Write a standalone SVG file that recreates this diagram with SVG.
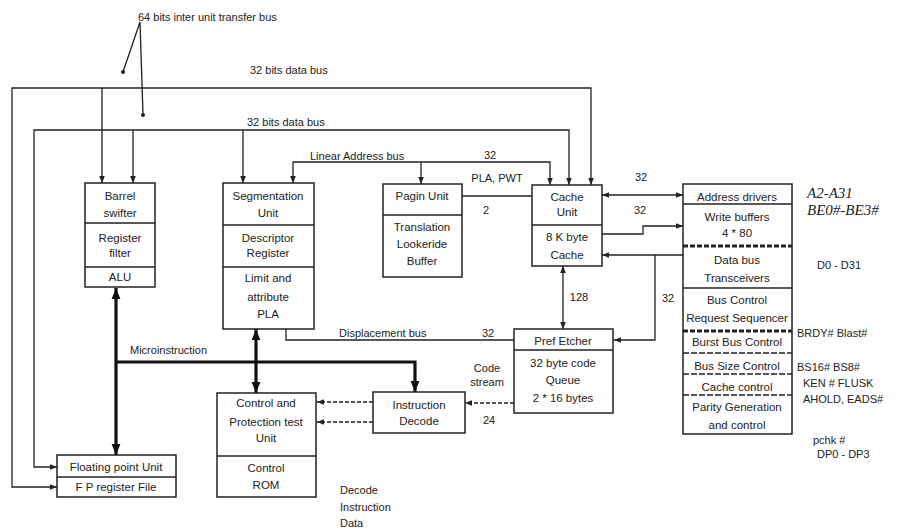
<svg xmlns="http://www.w3.org/2000/svg" width="902" height="530" viewBox="0 0 902 530">
<defs>
<marker id="a" viewBox="0 0 10 10" refX="10" refY="5" markerWidth="7" markerHeight="7" orient="auto-start-reverse" markerUnits="userSpaceOnUse"><path d="M0,1 L10,5 L0,9 z" fill="#222"/></marker>
<marker id="b" viewBox="0 0 10 10" refX="10" refY="5" markerWidth="11" markerHeight="11" orient="auto-start-reverse" markerUnits="userSpaceOnUse"><path d="M0,1 L10,5 L0,9 z" fill="#111"/></marker>
</defs>
<style>
.box{fill:none;stroke:#222;stroke-width:1.5}
.div{stroke:#222;stroke-width:1.3}
.dd{stroke:#222;stroke-width:3;stroke-dasharray:5 2}
.dl{stroke:#222;stroke-width:1.3;stroke-dasharray:6 2}
.w{fill:none;stroke:#222;stroke-width:1.3}
.ds{fill:none;stroke:#222;stroke-width:1.3;stroke-dasharray:4 2}
.th{fill:none;stroke:#111;stroke-width:3.2}
text{font-family:"Liberation Sans","DejaVu Sans",sans-serif;font-size:11.5px;fill:#222}
.c{text-anchor:middle}
.s{font-size:11px}
.it{font-family:"Liberation Serif",serif;font-style:italic;font-size:15px}
</style>
<rect width="902" height="530" fill="#fff"/>

<g id="connectors">
<path class="w" d="M591 185 V88 H12 V487 H57" marker-start="url(#a)" marker-end="url(#a)"/>
<path class="w" d="M102 88 V183" marker-end="url(#a)"/>
<path class="w" d="M569 185 V130 H34 V467 H57" marker-start="url(#a)" marker-end="url(#a)"/>
<path class="w" d="M133 130 V183" marker-end="url(#a)"/>
<path class="w" d="M243 130 V183" marker-end="url(#a)"/>
<path class="w" d="M293 183 V162 H550 V185" marker-start="url(#a)" marker-end="url(#a)"/>
<path class="w" d="M421 162 V184" marker-end="url(#a)"/>
<path class="w" d="M123 72 L140 22 L143 115"/>
<circle cx="123" cy="72" r="2" fill="#222"/>
<circle cx="143" cy="115" r="2" fill="#222"/>
<path class="w" d="M462 196 H532"/>
<path class="w" d="M602 195 H683" marker-start="url(#a)" marker-end="url(#a)"/>
<path class="w" d="M602 234 H643 V226 H683" marker-end="url(#a)"/>
<path class="w" d="M602 255 H683" marker-start="url(#a)"/>
<path class="w" d="M655 255 V340 H614" marker-end="url(#a)"/>
<path class="w" d="M563 266 V329" marker-start="url(#a)" marker-end="url(#a)"/>
<path class="w" d="M286 329 V340 H514"/>
<path class="ds" d="M514 403 H465" marker-end="url(#a)"/>
<path class="ds" d="M373 402 H317" marker-end="url(#a)"/>
<path class="ds" d="M373 422 H317" marker-end="url(#a)"/>
<path class="th" d="M116 288 V455" marker-start="url(#b)" marker-end="url(#b)"/>
<path class="th" d="M116 362 H415 V392" marker-end="url(#b)"/>
<path class="th" d="M256 329 V393" marker-start="url(#b)" marker-end="url(#b)"/>
</g>

<g id="barrel">
<rect class="box" x="85" y="183" width="70" height="104"/>
<line class="div" x1="85" y1="223" x2="155" y2="223"/>
<line class="div" x1="85" y1="267" x2="155" y2="267"/>
<text class="c" x="120" y="200">Barrel</text>
<text class="c" x="120" y="217">swifter</text>
<text class="c" x="120" y="242">Register</text>
<text class="c" x="120" y="257">filter</text>
<text class="c" x="120" y="281">ALU</text>
</g>

<g id="segmentation">
<rect class="box" x="223" y="183" width="91" height="146"/>
<line class="div" x1="223" y1="225" x2="314" y2="225"/>
<line class="div" x1="223" y1="267" x2="314" y2="267"/>
<text class="c" x="268" y="200">Segmentation</text>
<text class="c" x="268" y="217">Unit</text>
<text class="c" x="268" y="242">Descriptor</text>
<text class="c" x="268" y="257">Register</text>
<text class="c" x="268" y="282">Limit and</text>
<text class="c" x="268" y="301">attribute</text>
<text class="c" x="268" y="318">PLA</text>
</g>

<g id="paging">
<rect class="box" x="383" y="184" width="79" height="93"/>
<line class="div" x1="383" y1="215" x2="462" y2="215"/>
<text class="c" x="422" y="200">Pagin Unit</text>
<text class="c" x="422" y="231">Translation</text>
<text class="c" x="422" y="248">Lookeride</text>
<text class="c" x="422" y="265">Buffer</text>
</g>

<g id="cache">
<rect class="box" x="532" y="185" width="70" height="81"/>
<line class="div" x1="532" y1="225" x2="602" y2="225"/>
<text class="c" x="567" y="201">Cache</text>
<text class="c" x="567" y="216">Unit</text>
<text class="c" x="567" y="241">8 K byte</text>
<text class="c" x="567" y="259">Cache</text>
</g>

<g id="busunit">
<rect class="box" x="683" y="184" width="109" height="250"/>
<line class="div" x1="683" y1="204" x2="792" y2="204"/>
<line class="dd" x1="683" y1="246" x2="792" y2="246"/>
<line class="div" x1="683" y1="288" x2="792" y2="288"/>
<line class="dd" x1="683" y1="331" x2="792" y2="331"/>
<line class="dl" x1="683" y1="353" x2="792" y2="353"/>
<line class="dl" x1="683" y1="374" x2="792" y2="374"/>
<line class="dl" x1="683" y1="395" x2="792" y2="395"/>
<text class="c" x="737" y="201">Address drivers</text>
<text class="c" x="737" y="221">Write buffers</text>
<text class="c" x="737" y="237">4 * 80</text>
<text class="c" x="737" y="264">Data bus</text>
<text class="c" x="737" y="282">Transceivers</text>
<text class="c" x="737" y="304">Bus Control</text>
<text class="c" x="737" y="322">Request Sequencer</text>
<text class="c" x="737" y="346">Burst Bus Control</text>
<text class="c" x="737" y="370">Bus Size Control</text>
<text class="c" x="737" y="391">Cache control</text>
<text class="c" x="737" y="411">Parity Generation</text>
<text class="c" x="737" y="429">and control</text>
</g>

<g id="prefetcher">
<rect class="box" x="514" y="329" width="99" height="84"/>
<line class="div" x1="514" y1="350" x2="613" y2="350"/>
<text class="c" x="563" y="345">Pref Etcher</text>
<text class="c" x="563" y="367">32 byte code</text>
<text class="c" x="563" y="384">Queue</text>
<text class="c" x="563" y="402">2 * 16 bytes</text>
</g>

<g id="decode">
<rect class="box" x="373" y="392" width="92" height="41"/>
<text class="c" x="419" y="409">Instruction</text>
<text class="c" x="419" y="425">Decode</text>
</g>

<g id="control">
<rect class="box" x="217" y="393" width="99" height="104"/>
<line class="div" x1="217" y1="456" x2="316" y2="456"/>
<text class="c" x="266" y="407">Control and</text>
<text class="c" x="266" y="426">Protection test</text>
<text class="c" x="266" y="442">Unit</text>
<text class="c" x="266" y="472">Control</text>
<text class="c" x="266" y="489">ROM</text>
</g>

<g id="fpu">
<rect class="box" x="57" y="455" width="119" height="42"/>
<line class="div" x1="57" y1="477" x2="176" y2="477"/>
<text class="c" x="116" y="471">Floating point Unit</text>
<text class="c" x="116" y="491">F P register File</text>
</g>

<g id="labels">
<text class="s" x="138" y="21">64 bits inter unit transfer bus</text>
<text class="s" x="250" y="74">32 bits data bus</text>
<text class="s" x="247" y="126">32 bits data bus</text>
<text class="s" x="310" y="160">Linear Address bus</text>
<text class="s c" x="490" y="159">32</text>
<text class="s c" x="497" y="182">PLA, PWT</text>
<text class="s c" x="486" y="214">2</text>
<text class="s c" x="641" y="181">32</text>
<text class="s c" x="640" y="214">32</text>
<text class="s c" x="579" y="301">128</text>
<text class="s c" x="668" y="302">32</text>
<text class="s" x="339" y="337">Displacement bus</text>
<text class="s c" x="488" y="337">32</text>
<text class="s" x="130" y="354">Microinstruction</text>
<text class="s c" x="487" y="372">Code</text>
<text class="s c" x="487" y="386">stream</text>
<text class="s c" x="489" y="424">24</text>
<text class="s" x="340" y="494">Decode</text>
<text class="s" x="340" y="511">Instruction</text>
<text class="s" x="340" y="527">Data</text>
<text class="it" x="807" y="198">A2-A31</text>
<text class="it" x="807" y="215">BE0#-BE3#</text>
<text class="s" x="817" y="269">D0 - D31</text>
<text class="s" x="797" y="337">BRDY# Blast#</text>
<text class="s" x="797" y="371">BS16#  BS8#</text>
<text class="s" x="803" y="387">KEN # FLUSK</text>
<text class="s" x="803" y="403">AHOLD, EADS#</text>
<text class="s" x="813" y="444">pchk #</text>
<text class="s" x="817" y="458">DP0 - DP3</text>
</g>
</svg>
